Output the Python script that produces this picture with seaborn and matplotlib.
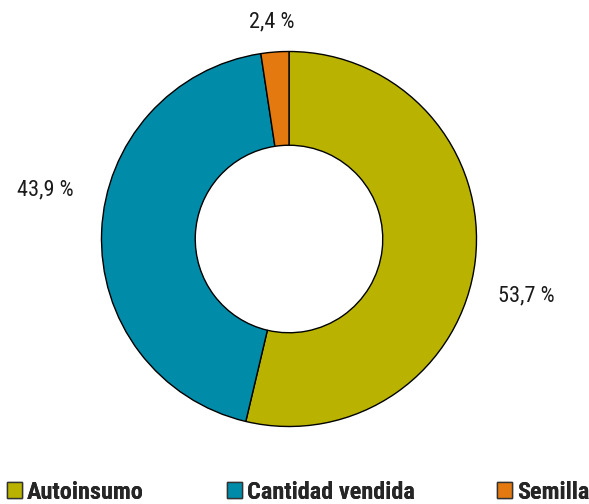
import matplotlib
matplotlib.use("Agg")
import matplotlib.pyplot as plt
import seaborn as sns
from matplotlib import font_manager
from matplotlib.patches import Patch

categories = ["Autoinsumo", "Cantidad vendida", "Semilla"]
shares = [53.7, 43.9, 2.4]
value_labels = ["53,7 %", "43,9 %", "2,4 %"]
colors = ["#b9b300", "#008ba8", "#e3790f"]

sns.set_theme(style="white")
names = {f.name for f in font_manager.fontManager.ttflist}
family = next((n for n in ["Roboto Condensed", "Liberation Sans Narrow", "Roboto"] if n in names),
              "DejaVu Sans")
plt.rcParams["font.family"] = [family, "DejaVu Sans"]

fig = plt.figure(figsize=(5.89, 5.04), dpi=100)
ax = fig.add_axes([0, 0, 1, 1])
ax.set_axis_off()

wedges, _ = ax.pie(
    shares, colors=colors, startangle=90, counterclock=False,
    radius=1.0, wedgeprops=dict(width=0.5, edgecolor="black", linewidth=1.0),
)

# label anchors around the ring
label_pos = [(1.265, -0.305), (-1.30, 0.26), (-0.09, 1.155)]
for (x, y), txt in zip(label_pos, value_labels):
    ax.text(x, y, txt, ha="center", va="center", fontsize=16, color="#1a1a1a")

ax.set_xlim(-289 / 187.5, 300 / 187.5)
ax.set_ylim(-265 / 187.5, 239 / 187.5)
ax.set_aspect("equal", adjustable="datalim")

# one legend entry per column position along the bottom
legend_x = [0.008, 0.382, 0.840]
for cat, col, x in zip(categories, colors, legend_x):
    h = Patch(facecolor=col, edgecolor="#333333", linewidth=1.0)
    leg = fig.legend(
        [h], [cat], loc="lower left", bbox_to_anchor=(x, -0.004),
        frameon=False, handlelength=0.62, handleheight=0.62,
        handletextpad=0.2, borderaxespad=0.0, borderpad=0.1,
        prop=dict(family=[family, "DejaVu Sans"], weight="bold", size=17.5),
    )
    fig.add_artist(leg)

fig.savefig("out.png", dpi=100)
